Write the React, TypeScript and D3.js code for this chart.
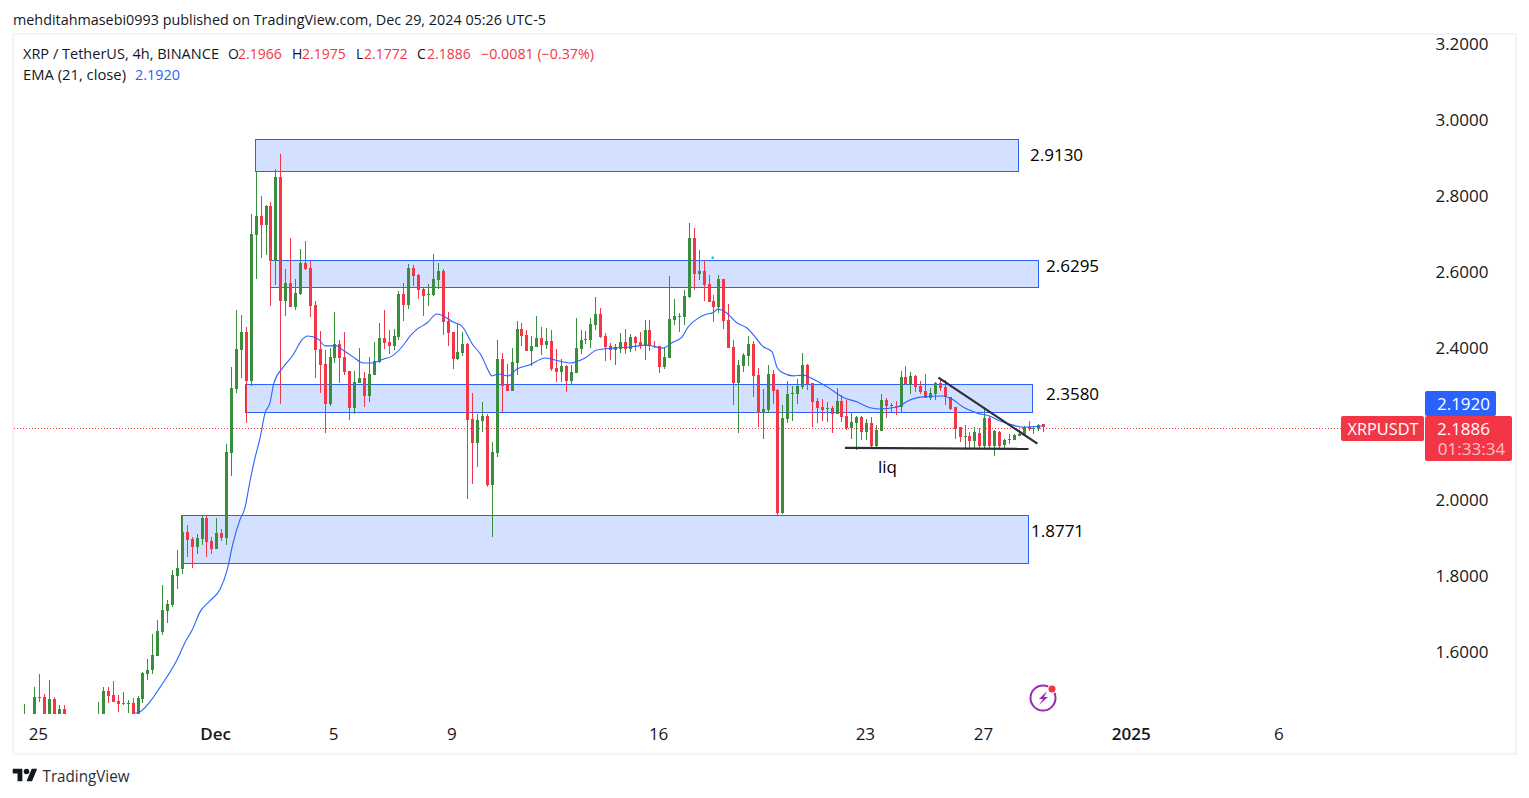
import React from "react";
import * as d3 from "d3";

const opens = [
1.38,1.40,1.41,1.480,1.479,1.42,1.474,1.43,1.447,1.42,
1.39,1.37,1.36,1.34,1.38,1.40,1.43,1.495,1.484,1.468,
1.463,1.460,1.463,1.429,1.474,1.539,1.550,1.587,1.650,1.705,
1.721,1.797,1.816,1.913,1.895,1.874,1.895,1.950,1.889,1.868,
1.911,1.897,2.121,2.290,2.392,2.440,2.311,2.695,2.745,2.721,
2.771,2.626,2.847,2.521,2.568,2.505,2.540,2.621,2.608,2.511,
2.395,2.355,2.250,2.371,2.408,2.374,2.337,2.240,2.305,2.318,
2.271,2.326,2.361,2.424,2.413,2.403,2.426,2.540,2.511,2.608,
2.589,2.553,2.537,2.537,2.576,2.600,2.468,2.440,2.368,2.384,
2.408,2.211,2.147,2.205,2.218,2.037,2.121,2.368,2.303,2.284,
2.358,2.447,2.432,2.390,2.400,2.424,2.405,2.416,2.345,2.334,
2.350,2.311,2.332,2.395,2.419,2.419,2.458,2.487,2.429,2.403,
2.392,2.395,2.413,2.395,2.426,2.413,2.403,2.445,2.403,2.403,
2.347,2.371,2.471,2.479,2.479,2.532,2.687,2.592,2.600,2.566,
2.521,2.505,2.579,2.471,2.400,2.305,2.350,2.376,2.408,2.326,
2.226,2.234,2.329,2.287,1.963,2.211,2.276,2.276,2.295,2.353,
2.305,2.258,2.242,2.237,2.240,2.224,2.258,2.218,2.187,2.200,
2.216,2.176,2.200,2.139,2.179,2.261,2.247,2.245,2.242,2.321,
2.303,2.324,2.297,2.284,2.266,2.276,2.305,2.295,2.268,2.242,
2.189,2.163,2.166,2.153,2.174,2.139,2.213,2.139,2.176,2.142,
2.155,2.155,2.166,2.171,2.189,2.184,2.184,2.1966];

const highs = [
1.460,1.43,1.506,1.539,1.487,1.524,1.479,1.458,1.458,1.43,
1.42,1.40,1.38,1.39,1.42,1.466,1.505,1.505,1.521,1.484,
1.492,1.471,1.476,1.482,1.545,1.579,1.645,1.682,1.774,1.734,
1.813,1.866,1.958,1.932,1.900,1.908,1.955,1.955,1.900,1.950,
1.921,2.145,2.347,2.498,2.484,2.452,2.750,2.861,2.798,2.774,
2.782,2.868,2.908,2.605,2.687,2.579,2.658,2.679,2.626,2.521,
2.442,2.392,2.397,2.492,2.419,2.440,2.337,2.337,2.397,2.334,
2.374,2.413,2.463,2.498,2.445,2.447,2.547,2.568,2.618,2.616,
2.592,2.555,2.566,2.645,2.621,2.605,2.492,2.440,2.461,2.440,
2.411,2.279,2.224,2.255,2.224,2.150,2.419,2.384,2.355,2.397,
2.468,2.463,2.445,2.429,2.482,2.452,2.450,2.445,2.395,2.368,
2.353,2.353,2.476,2.445,2.442,2.476,2.532,2.503,2.437,2.411,
2.408,2.437,2.447,2.434,2.429,2.440,2.471,2.471,2.416,2.403,
2.400,2.587,2.526,2.490,2.550,2.726,2.713,2.655,2.629,2.589,
2.537,2.589,2.579,2.513,2.419,2.366,2.384,2.429,2.416,2.345,
2.290,2.353,2.340,2.290,2.247,2.311,2.297,2.316,2.384,2.355,
2.305,2.266,2.263,2.255,2.245,2.292,2.274,2.261,2.226,2.218,
2.218,2.211,2.216,2.195,2.276,2.266,2.253,2.258,2.337,2.350,
2.334,2.326,2.311,2.329,2.292,2.308,2.318,2.313,2.268,2.242,
2.189,2.195,2.176,2.189,2.187,2.242,2.218,2.182,2.179,2.158,
2.171,2.171,2.182,2.192,2.205,2.192,2.197,2.1975];

const lows = [
1.37,1.38,1.40,1.466,1.41,1.41,1.42,1.42,1.41,1.38,
1.36,1.35,1.33,1.33,1.37,1.39,1.42,1.463,1.466,1.439,
1.458,1.437,1.418,1.424,1.463,1.524,1.539,1.587,1.642,1.674,
1.716,1.763,1.803,1.847,1.818,1.855,1.879,1.847,1.855,1.868,
1.889,1.879,2.061,2.279,2.318,2.200,2.297,2.579,2.634,2.642,
2.508,2.563,2.250,2.482,2.505,2.498,2.537,2.603,2.479,2.318,
2.279,2.174,2.245,2.358,2.305,2.326,2.208,2.224,2.305,2.242,
2.255,2.326,2.358,2.395,2.382,2.392,2.419,2.468,2.500,2.561,
2.526,2.482,2.508,2.534,2.553,2.432,2.403,2.342,2.366,2.376,
2.000,2.040,2.084,2.176,2.032,1.900,2.110,2.229,2.284,2.284,
2.326,2.403,2.390,2.350,2.400,2.379,2.395,2.337,2.308,2.308,
2.282,2.300,2.332,2.382,2.408,2.397,2.445,2.424,2.363,2.366,
2.353,2.384,2.382,2.387,2.390,2.395,2.366,2.390,2.397,2.332,
2.342,2.371,2.458,2.440,2.458,2.529,2.550,2.576,2.521,2.518,
2.466,2.490,2.447,2.397,2.247,2.174,2.334,2.350,2.268,2.189,
2.158,2.226,2.250,1.958,1.961,2.200,2.205,2.250,2.290,2.287,
2.189,2.200,2.205,2.203,2.174,2.224,2.203,2.182,2.158,2.129,
2.155,2.155,2.132,2.132,2.179,2.213,2.229,2.221,2.229,2.300,
2.276,2.282,2.276,2.266,2.261,2.261,2.284,2.247,2.234,2.158,
2.150,2.129,2.134,2.132,2.134,2.132,2.132,2.113,2.132,2.134,
2.145,2.155,2.166,2.168,2.179,2.171,2.179,2.1772];

const closes = [
1.42,1.39,1.479,1.476,1.42,1.474,1.43,1.447,1.42,1.39,
1.37,1.36,1.34,1.38,1.40,1.43,1.495,1.482,1.466,1.460,
1.460,1.463,1.418,1.476,1.542,1.550,1.590,1.653,1.708,1.724,
1.800,1.818,1.913,1.892,1.874,1.897,1.950,1.887,1.868,1.911,
1.897,2.124,2.292,2.395,2.440,2.311,2.697,2.745,2.721,2.771,
2.626,2.847,2.521,2.568,2.505,2.542,2.621,2.605,2.508,2.392,
2.353,2.250,2.374,2.408,2.371,2.334,2.240,2.308,2.318,2.271,
2.329,2.363,2.424,2.411,2.403,2.429,2.540,2.511,2.608,2.587,
2.550,2.534,2.540,2.579,2.600,2.466,2.437,2.368,2.387,2.408,
2.208,2.147,2.208,2.218,2.037,2.124,2.368,2.297,2.284,2.361,
2.447,2.429,2.390,2.403,2.424,2.405,2.416,2.342,2.334,2.350,
2.311,2.334,2.397,2.419,2.421,2.461,2.487,2.426,2.400,2.392,
2.400,2.413,2.395,2.426,2.411,2.403,2.445,2.403,2.400,2.347,
2.374,2.474,2.482,2.482,2.534,2.687,2.592,2.600,2.563,2.518,
2.505,2.579,2.468,2.397,2.305,2.353,2.379,2.408,2.324,2.226,
2.237,2.329,2.284,1.963,2.213,2.276,2.279,2.297,2.353,2.303,
2.255,2.240,2.234,2.240,2.224,2.258,2.216,2.187,2.203,2.216,
2.176,2.200,2.139,2.182,2.261,2.245,2.245,2.242,2.321,2.303,
2.324,2.295,2.282,2.266,2.279,2.305,2.292,2.268,2.237,2.184,
2.163,2.166,2.153,2.176,2.139,2.213,2.139,2.179,2.139,2.155,
2.158,2.168,2.171,2.189,2.184,2.187,2.195,2.1886];

const emaBars = [22.5,23.3,25.5,27.6,31,32.7,34.1,35.7,37.7,39.8,41.2,42.4,43.8,44.8,45.9,46.9,47.9,48.9,49.9,50.7,52.6,54.6,56.4,57.6,59.7,61.1,63.5,64.7,66.8,68.8,70.6,72.9,74.7,76.7,78.4,79.8,81.8,83.8,85,87.1,88.9,91,93,94,95,96.2,98.3,100.1,102.7,105.8,107.8,110.9,113.9,116.3,119.6,123,126.5,129.7,131.8,133.6,134.8,136.9,138.7,139.9,140.9,142.4,144.8,146.8,148.5,149.9,151.9,152.9,154.1,156.2,158.2,160.2,163.1,166.3,169.2,171.8,173.4,177.3,179.5,182,186.6,188.7,190.7,193.6,196.2,198.2,200.7,202.9,207];
const emaValues = [1.437,1.439,1.466,1.505,1.576,1.624,1.655,1.703,1.732,1.763,1.813,1.884,1.945,1.976,2.050,2.110,2.161,2.226,2.253,2.305,2.347,2.379,2.419,2.429,2.421,2.403,2.403,2.392,2.374,2.358,2.358,2.368,2.376,2.400,2.429,2.447,2.463,2.487,2.482,2.466,2.455,2.408,2.374,2.345,2.324,2.329,2.324,2.342,2.353,2.371,2.366,2.358,2.371,2.392,2.397,2.400,2.405,2.397,2.413,2.426,2.452,2.476,2.487,2.490,2.500,2.492,2.463,2.450,2.426,2.403,2.387,2.347,2.332,2.324,2.326,2.316,2.295,2.268,2.255,2.240,2.237,2.242,2.258,2.268,2.271,2.261,2.242,2.226,2.218,2.205,2.195,2.189,2.192];

const zoneLabels = ["2.9130", "2.6295", "2.3580", "1.8771"];
const zoneStart = [47, 50, 45, 32];
const zoneEnd = [201.9, 206, 204.9, 203.9];
const zoneTop = [2.9448, 2.6286, 2.3019, 1.9572];
const zoneBottom = [2.8619, 2.5576, 2.2282, 1.8308];

const priceTicks = [3.2, 3.0, 2.8, 2.6, 2.4, 2.0, 1.8, 1.6];
const timeTickBars = [3, 39, 63, 87, 129, 171, 195, 225, 255];
const timeTickLabels = ["25", "Dec", "5", "9", "16", "23", "27", "2025", "6"];
const boldTicks = ["Dec", "2025"];

const trendBars = [185.7, 205.8];
const trendPrices = [2.3193, 2.1456];
const floorBars = [166.7, 204];
const floorPrices = [2.1343, 2.1317];

const GREEN = "#388e3c";
const RED = "#f23645";
const BLUE = "#2962ff";
const INK = "#131722";
const FONT = "'Open Sans', 'Noto Sans', sans-serif";

const x = d3.scaleLinear().domain([0, 207]).range([24.3, 1043.3]);
const y = d3.scaleLinear().domain([3.2, 1.6]).range([43, 651]);

const legendParts: [string, number, string, number | undefined][] = [
  ["O", 228, INK, undefined], ["2.1966", 238, RED, undefined], ["H", 292, INK, undefined], ["2.1975", 302, RED, undefined],
  ["L", 356, INK, undefined], ["2.1772", 364, RED, undefined], ["C", 417, INK, undefined], ["2.1886", 427, RED, undefined],
  ["−0.0081 (−0.37%)", 481, RED, 113],
];

export default function App() {
  const emaPath = d3.line<number>()
    .x((_, i) => x(emaBars[i]))
    .y((v) => y(v))
    .curve(d3.curveMonotoneX)(emaValues) as string;
  const lastY = Math.round(y(closes[closes.length - 1])) + 1.5;

  return (
    <svg width={1529} height={798} viewBox="0 0 1529 798"
      style={{ position: "absolute", left: 0, top: 0, display: "block", background: "#fff", fontFamily: FONT }}>
      <defs>
        <clipPath id="pane"><rect x={14} y={35} width={1330} height={679} /></clipPath>
      </defs>
      <text x={13} y={24.5} fontSize={14} fill={INK} textLength={533} lengthAdjust="spacingAndGlyphs">
        mehditahmasebi0993 published on TradingView.com, Dec 29, 2024 05:26 UTC-5
      </text>
      <rect x={13.3} y={34} width={1502.7} height={719.7} fill="none" stroke="#f0f3fa" strokeWidth={2} />

      {/* price dotted line */}
      <line x1={14} x2={1341} y1={lastY} y2={lastY} stroke={RED} strokeWidth={1} strokeDasharray="1 2" />

      <g clipPath="url(#pane)">
        {zoneLabels.map((_, i) => {
          const l = Math.floor(x(zoneStart[i]));
          const r = Math.floor(x(zoneEnd[i]));
          const t = Math.floor(y(zoneTop[i]));
          const b = Math.floor(y(zoneBottom[i]));
          return (
            <rect key={i} x={l + 0.5} y={t + 0.5} width={r - l} height={b - t}
              fill="#d4e0ff" stroke={BLUE} strokeWidth={1} />
          );
        })}
        {opens.map((o, i) => {
          const c = closes[i];
          const col = c >= o ? GREEN : RED;
          const cx = Math.round(x(i));
          const top = Math.round(y(Math.max(o, c)));
          const bot = Math.round(y(Math.min(o, c)));
          const hi = Math.round(y(highs[i]));
          const lo = Math.round(y(lows[i]));
          return (
            <g key={i} fill={col} shapeRendering="crispEdges">
              <rect x={cx} y={hi} width={1} height={Math.max(lo - hi, 1)} />
              <rect x={cx - 1} y={top} width={3} height={Math.max(bot - top, 1)} />
            </g>
          );
        })}
        <path d={emaPath} fill="none" stroke={BLUE} strokeWidth={1.1} />
        <circle cx={712.7} cy={257.7} r={1.3} fill="#00bcd4" />
        <line x1={x(trendBars[0])} y1={y(trendPrices[0])} x2={x(trendBars[1])} y2={y(trendPrices[1])}
          stroke="#2a2e39" strokeWidth={2.2} />
        <line x1={x(floorBars[0])} y1={y(floorPrices[0])} x2={x(floorBars[1])} y2={y(floorPrices[1])}
          stroke="#2a2e39" strokeWidth={2.2} />
      </g>

      {/* zone labels */}
      {[[1030, 155], [1046, 266], [1046, 394], [1031, 531]].map(([lx, ly], i) => (
        <text key={i} x={lx} y={ly} dy="0.36em" fontSize={17} fontWeight={500} fill="#000">{zoneLabels[i]}</text>
      ))}
      <text x={878} y={467} dy="0.36em" fontSize={17} fontWeight={500} fill="#000">liq</text>

      {/* legend */}
      <text x={23} y={59} fontSize={14} fill={INK} textLength={196} lengthAdjust="spacingAndGlyphs">XRP / TetherUS, 4h, BINANCE</text>
      {legendParts.map(([t, lx, col, w], i) => (
        <text key={i} x={lx} y={59} fontSize={14} fill={col} {...(w ? { textLength: w, lengthAdjust: "spacingAndGlyphs" } : {})}>{t}</text>
      ))}
      <text x={23} y={80} fontSize={14} fill={INK} textLength={103} lengthAdjust="spacingAndGlyphs">EMA (21, close)</text>
      <text x={135} y={80} fontSize={14} fill={BLUE} textLength={45} lengthAdjust="spacingAndGlyphs">2.1920</text>

      {/* price axis */}
      {priceTicks.map((p) => (
        <text key={p} x={1488.5} y={y(p) + 0.8} dy="0.36em" textAnchor="end" fontSize={17} fontWeight={500} fill={INK}>{p.toFixed(4)}</text>
      ))}
      {/* time axis */}
      {timeTickBars.map((b, i) => (
        <text key={b} x={x(b) - 0.7} y={734} dy="0.36em" textAnchor="middle" fontSize={17}
          fontWeight={boldTicks.includes(timeTickLabels[i]) ? 600 : 500} fill={INK}>{timeTickLabels[i]}</text>
      ))}

      {/* price badges */}
      <rect x={1425} y={391} width={71} height={25} rx={2} fill={BLUE} />
      <text x={1463.5} y={404} dy="0.36em" textAnchor="middle" fontSize={17} fontWeight={500} fill="#fff">2.1920</text>
      <rect x={1341} y={416} width={83} height={25} rx={2} fill={RED} />
      <text x={1383} y={429} dy="0.36em" textAnchor="middle" fontSize={16.5} fontWeight={500} fill="#fff" textLength={71} lengthAdjust="spacingAndGlyphs">XRPUSDT</text>
      <rect x={1425} y={416} width={87} height={45} rx={2} fill={RED} />
      <text x={1463.5} y={429} dy="0.36em" textAnchor="middle" fontSize={17} fontWeight={500} fill="#fff">2.1886</text>
      <text x={1471.5} y={449} dy="0.36em" textAnchor="middle" fontSize={17} fontWeight={500} fill="#fff" fillOpacity={0.7}>01:33:34</text>

      {/* bottom logo */}
      <g transform="translate(12.7 766) scale(0.69)" fill={INK}>
        <path d="M14 22H7V11H0V4h14v18zM28 22h-8l7.5-18h8L28 22z" />
        <circle cx={20} cy={8} r={4} />
      </g>
      <text x={42.5} y={782} fontSize={15.5} fill="#2a2e39" textLength={87} lengthAdjust="spacingAndGlyphs">TradingView</text>

      {/* lightning icon */}
      <circle cx={1043} cy={698} r={12.5} fill="none" stroke="#9c27b0" strokeWidth={2} />
      <path d="M1047 691 L1039 699 L1043 699 L1039 705 L1048 697 L1044 697 Z" fill="#9c27b0" />
      <circle cx={1052} cy={689} r={4.5} fill="#fff" />
      <circle cx={1052} cy={689} r={3.5} fill={RED} />
    </svg>
  );
}
